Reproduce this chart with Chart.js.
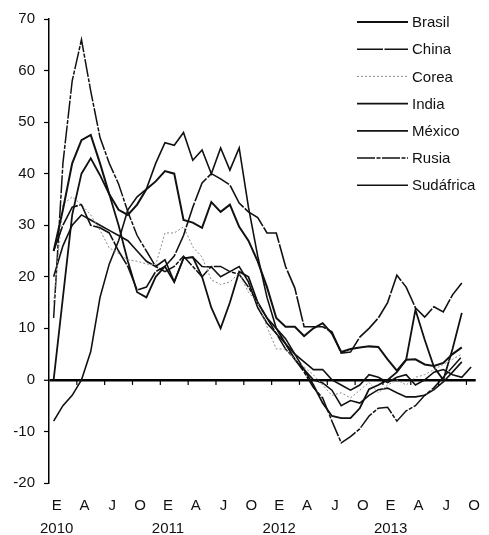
<!DOCTYPE html>
<html>
<head>
<meta charset="utf-8">
<script src="https://cdn.jsdelivr.net/npm/chart.js@4.4.0/dist/chart.umd.min.js"></script>
<style>
    html, body { margin: 0; padding: 0; background: #fff; }
    #wrap { width: 489px; height: 535px; }
</style>
</head>
<body>
<div id="wrap"><canvas id="grafico" width="489" height="535"></canvas></div>
<script>
// meses de ene-2010 a oct-2013
var anios = ['2010', '2011', '2012', '2013'];
var meses = ['E', 'F', 'M', 'A', 'M', 'J', 'J', 'A', 'S', 'O', 'N', 'D'];
var numMeses = 46;

var yTicks = [-20, -10, 0, 10, 20, 30, 40, 50, 60, 70];

// variacion anual, %
var brasil = [25, 33, 42, 46.5, 47.5, 42, 36, 33, 32, 34, 37, 38.5,
    40.5, 40, 31, 30.5, 29.5, 34.5, 32.6, 34, 29.7, 27, 23, 18,
    12, 10.3, 10.3, 8.5, 10, 11, 9, 5.4, 6, 6.3, 6.5, 6.4,
    4, 1.8, 3.9, 4, 3, 2.7, 3.3, 5, 6.3, null];
var china = [25, 30, 33.5, 34, 30, 29.5, 28.5, 25, 22, 17.4, 18, 21,
    22, 24, 28, 33.5, 38.2, 40, 39, 37.8, 34.3, 32.6, 31.5, 28.5,
    28.5, 22, 17.8, 10.3, 10.3, 10.3, 9.3, 5.2, 5.4, 8.3, 10, 12,
    15, 20.3, 18, 14, 12.2, 14.2, 13.2, 16.5, 18.8, null];
var corea = [15, 34, 35.5, 34, 32, 29, 25.6, 24.5, 23.3, 23, 22.5, 22.3,
    28.5, 28.5, 29.7, 25.8, 23.8, 19.4, 18.5, 19, 20.7, 17, 15, 10.3,
    6, 6, 4, 2.5, 1, -1, -3, -2.5, -3.5, -2, -0.5, -2.5,
    -1, 0, -1, 0.5, 1, 2, 3, 4, 5, null];
var india = [-8, -5, -3, 0, 5.5, 16, 22.5, 27, 33, 35.5, 37, 42,
    46, 45.5, 48, 42.6, 44.6, 40, 45, 40.7, 45, 33.5, 24, 16,
    10, 8, 5, 2, 0, -0.6, -2, -5, -4, -4.5, -3, -1.9,
    -1.6, -2.5, -3.3, -3.3, -3, -1.9, -0.4, 1.5, 3.5, null];
var mexico = [0, 16, 32, 40, 43, 39.7, 36, 30, 23, 17, 16, 20,
    22, 19, 23.6, 23.8, 20, 14, 10, 15, 21, 20, 15, 12,
    10, 7, 4, 2, -1, -4.5, -7, -7.4, -7.4, -5.5, -1.8, -1,
    0, 1.5, 3.9, 13.6, 7.8, 2.5, 0, 6, 13, null];
var rusia = [12, 42, 58, 66, 56, 47, 42, 38, 32.6, 28, 25, 22,
    21, 22, 24, 22, 20, 22, 22, 21, 20.5, 18, 15, 12,
    9, 6, 4, 1.5, -1.5, -3.5, -8, -12.2, -11, -9.5, -7, -5.5,
    -5.3, -8, -6, -5, -3, -1.5, 0.5, 2.5, 4.5, null];
var sudafrica = [20, 26, 30, 32, 31, 30, 29, 28, 27, 25, 23, 22,
    23.3, 19, 23.6, 23.8, 22, 21.9, 20, 21, 22, 19, 14, 11,
    9, 7, 5, 3.5, 2, 2, 0, -1, -2, -1, 1, 0.5,
    -0.5, 0.5, 1, -1, 0, 1.5, 2, 1, 0.5, 2.5];

var categorias = [];
for (var i = 0; i < numMeses; i++) {
    categorias.push(meses[i % 12] + ' ' + anios[Math.floor(i / 12)]);
}

var negro = '#111';
var fuente = 'Liberation Sans, Arial, sans-serif';

// leyenda dentro del area y marcas sobre el eje cero
var extras = {
    id: 'extras',
    afterDatasetsDraw: function (chart) {
        var ctx = chart.ctx;
        var x = chart.scales.x;
        var y = chart.scales.y;
        var y0 = y.getPixelForValue(0);
        ctx.save();
        ctx.strokeStyle = '#000';
        ctx.lineWidth = 1.2;
        for (var i = 3; i < numMeses; i += 3) {
            var px = (x.getPixelForValue(i - 1) + x.getPixelForValue(i)) / 2;
            ctx.beginPath();
            ctx.moveTo(px, y0);
            ctx.lineTo(px, y0 + 5);
            ctx.stroke();
        }

        ctx.font = '15px ' + fuente;
        ctx.textBaseline = 'middle';
        ctx.fillStyle = negro;
        chart.data.datasets.forEach(function (ds, k) {
            var ly = 22 + 27.2 * k;
            ctx.strokeStyle = ds.borderColor;
            ctx.lineWidth = ds.borderWidth;
            ctx.setLineDash(ds.borderDash || []);
            ctx.beginPath();
            ctx.moveTo(357, ly);
            ctx.lineTo(408, ly);
            ctx.stroke();
            ctx.setLineDash([]);
            ctx.fillText(ds.label, 412, ly + 1);
        });
        ctx.restore();
    }
};

function serie(label, data, width, dash, color) {
    return {
        label: label,
        data: data,
        borderColor: color || negro,
        borderWidth: width,
        borderDash: dash,
        pointRadius: 0,
        tension: 0,
        fill: false,
        spanGaps: false
    };
}

var ctx = document.getElementById('grafico').getContext('2d');
var myChart = new Chart(ctx, {
    type: 'line',
    data: {
        labels: categorias,
        datasets: [
            serie('Brasil', brasil, 2, []),
            serie('China', china, 1.6, [26, 1.5]),
            serie('Corea', corea, 1, [2, 2], '#8a8a8a'),
            serie('India', india, 1.6, []),
            serie('México', mexico, 1.8, []),
            serie('Rusia', rusia, 1.5, [18, 1.5, 4, 1.5]),
            serie('Sudáfrica', sudafrica, 1.6, [])
        ]
    },
    options: {
        responsive: false,
        animation: false,
        devicePixelRatio: 1,
        layout: { padding: { top: 19, right: 7, left: 0, bottom: 0 } },
        plugins: {
            legend: { display: false },
            tooltip: { enabled: false }
        },
        scales: {
            x: {
                type: 'category',
                offset: true,
                grid: { display: false, drawTicks: false },
                border: { display: false },
                afterFit: function (scale) { scale.height = 52; },
                ticks: {
                    autoSkip: false,
                    maxRotation: 0,
                    minRotation: 0,
                    padding: 12,
                    labelOffset: 3,
                    color: negro,
                    font: { family: fuente, size: 15, lineHeight: 1.5 },
                    callback: function (val, idx) {
                        if (idx % 3 !== 0) return '';
                        var m = meses[idx % 12];
                        if (idx % 12 === 0) return [m, anios[idx / 12]];
                        return m;
                    }
                }
            },
            y: {
                min: -20,
                max: 70,
                afterFit: function (scale) { scale.width = 49; },
                afterBuildTicks: function (scale) {
                    scale.ticks = yTicks.map(function (v) { return { value: v }; });
                },
                border: { display: true, color: '#000', width: 1.5 },
                grid: {
                    drawTicks: true,
                    tickLength: 5,
                    tickColor: '#000',
                    tickWidth: 1.2,
                    color: function (c) { return c.tick && c.tick.value === 0 ? '#000' : 'rgba(0,0,0,0)'; },
                    lineWidth: function (c) { return c.tick && c.tick.value === 0 ? 2.6 : 1; }
                },
                ticks: {
                    padding: 9,
                    color: negro,
                    font: { family: fuente, size: 15 }
                }
            }
        }
    },
    plugins: [extras]
});
</script>
</body>
</html>
